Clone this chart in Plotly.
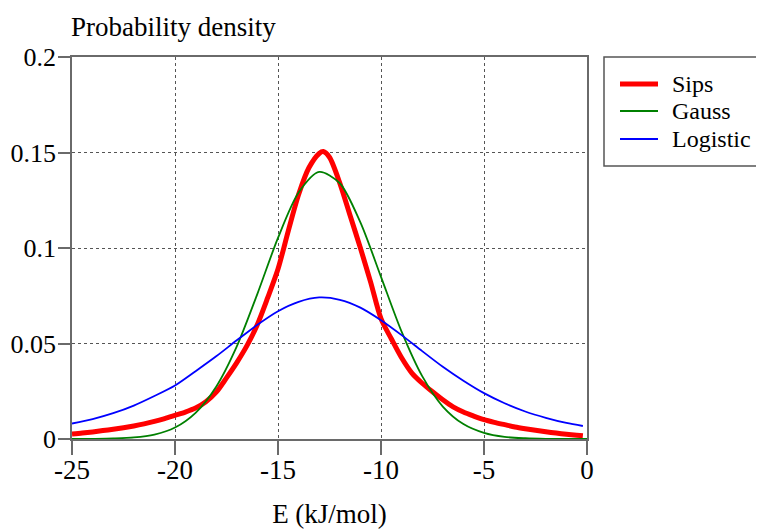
import plotly.graph_objects as go

# ---- data ----
sips_E = [-25, -24.5, -24, -23.5, -23, -22.5, -22, -21.5, -21, -20.5, -20, -19.5, -19,
          -18.5, -18, -17.5, -17, -16.5, -16, -15.5, -15, -14.5, -14, -13.5, -13, -12.8,
          -12.5, -12, -11.5, -11, -10.5, -10, -9.5, -9, -8.5, -8, -7.5, -7, -6.5, -6,
          -5.5, -5, -4.5, -4, -3.5, -3, -2.5, -2, -1.5, -1, -0.5, -0.2]
sips_p = [0.0026, 0.0031, 0.0037, 0.0044, 0.0051, 0.0059, 0.0068, 0.0079, 0.0092, 0.0107,
          0.0124, 0.0141, 0.0162, 0.0195, 0.0245, 0.0320, 0.0400, 0.0490, 0.0600, 0.0740,
          0.0890, 0.1090, 0.1280, 0.1420, 0.1495, 0.1505, 0.1475, 0.1340, 0.1170, 0.1000,
          0.0820, 0.0630, 0.0525, 0.0425, 0.0345, 0.0292, 0.0247, 0.0205, 0.0168, 0.0141,
          0.0120, 0.0101, 0.0087, 0.0075, 0.0063, 0.0054, 0.0046, 0.0038, 0.0031, 0.0025,
          0.0020, 0.0017]

gauss_E = [-25, -24, -23, -22, -21, -20, -19, -18, -17, -16, -15, -14, -13, -12, -11,
           -10, -9, -8, -7, -6, -5, -4, -3, -2, -1, 0]
gauss_p = [0.0000, 0.0001, 0.0003, 0.0008, 0.0023, 0.0060, 0.0137, 0.0274, 0.0485, 0.0760,
           0.1053, 0.1290, 0.1398, 0.1339, 0.1134, 0.0849, 0.0562, 0.0329, 0.0170, 0.0078,
           0.0032, 0.0011, 0.0004, 0.0001, 0.0000, 0.0000]

logi_E = [-25, -24, -23, -22, -21, -20, -19, -18, -17, -16, -15, -14, -13, -12, -11,
          -10, -9, -8, -7, -6, -5, -4, -3, -2, -1, -0.2]
logi_p = [0.0081, 0.0104, 0.0135, 0.0175, 0.0225, 0.0280, 0.0355, 0.0433, 0.0517, 0.0598,
          0.0669, 0.0718, 0.0741, 0.0729, 0.0688, 0.0622, 0.0544, 0.0460, 0.0378, 0.0305,
          0.0240, 0.0187, 0.0144, 0.0111, 0.0084, 0.0068]

x_ticks = [-25, -20, -15, -10, -5, 0]
x_tick_text = ["-25", "-20", "-15", "-10", "-5", "0"]
y_ticks = [0, 0.05, 0.1, 0.15, 0.2]
y_tick_text = ["0", "0.05", "0.1", "0.15", "0.2"]

series_names = ["Sips", "Gauss", "Logistic"]
series_colors = ["#ff0000", "#008000", "#0000ff"]
series_widths = [5, 1.8, 1.8]

FONT = "Liberation Serif, Times New Roman, serif"

# The page body has an 8px margin, so the figure sits at (8, 8) in the window.
OFF = 8
W, H = 764 - OFF, 529 - OFF
PLOT_L, PLOT_R, PLOT_T, PLOT_B = 72, 587, 57, 439  # window pixels
L, T = PLOT_L - OFF, PLOT_T - OFF
R, B = W - (PLOT_R - OFF), H - (PLOT_B - OFF)
PW, PH = PLOT_R - PLOT_L, PLOT_B - PLOT_T


def px_x(p):
    return (p - PLOT_L) / PW


def px_y(p):
    return (PLOT_B - p) / PH


fig = go.Figure()
for E, p, name, col, w in zip([sips_E, gauss_E, logi_E], [sips_p, gauss_p, logi_p],
                              series_names, series_colors, series_widths):
    fig.add_trace(go.Scatter(x=E, y=p, mode="lines", name=name, showlegend=False,
                             line=dict(color=col, width=w, shape="spline", smoothing=0.8)))

axis_common = dict(showline=True, mirror=True, linecolor="#6a6a6a", linewidth=1.5,
                   showgrid=True, gridcolor="#555555", gridwidth=1, griddash="3px,3px",
                   zeroline=False, ticks="outside", tickcolor="#6a6a6a", tickwidth=1.5,
                   automargin=False)

fig.update_xaxes(range=[-25, 0], tickvals=x_ticks, ticktext=x_tick_text, ticklen=14,
                 ticklabelstandoff=-8,
                 tickfont=dict(family=FONT, size=27, color="black"),
                 title=dict(text="E (kJ/mol)", font=dict(family=FONT, size=27, color="black"),
                            standoff=22),
                 **axis_common)
fig.update_yaxes(range=[0, 0.2], tickvals=y_ticks, ticktext=y_tick_text, ticklen=12,
                 ticklabelstandoff=-3,
                 tickfont=dict(family=FONT, size=26, color="black"),
                 **axis_common)

# y-axis title placed above the plot, as in the reference
fig.add_annotation(text="Probability density", x=px_x(69), y=px_y(27), xref="paper",
                   yref="paper", xanchor="left", yanchor="middle", showarrow=False,
                   font=dict(family=FONT, size=27, color="black"))

# legend box (drawn manually to match spacing)
fig.add_shape(type="rect", xref="paper", yref="paper",
              x0=px_x(604), x1=px_x(763), y0=px_y(166), y1=px_y(57),
              line=dict(color="#555555", width=1.5), fillcolor="white", layer="above")
leg_y = [84, 111, 139]
for name, col, w, yy in zip(series_names, series_colors, series_widths, leg_y):
    fig.add_shape(type="line", xref="paper", yref="paper",
                  x0=px_x(620), x1=px_x(658), y0=px_y(yy), y1=px_y(yy),
                  line=dict(color=col, width=w), layer="above")
    fig.add_annotation(text=name, x=px_x(670), y=px_y(yy), xref="paper", yref="paper",
                       xanchor="left", yanchor="middle", showarrow=False,
                       font=dict(family=FONT, size=24, color="black"))

fig.update_layout(width=W, height=H, margin=dict(l=L, r=R, t=T, b=B, autoexpand=False),
                  plot_bgcolor="white", paper_bgcolor="white", showlegend=False)

fig.write_html("out.html")
